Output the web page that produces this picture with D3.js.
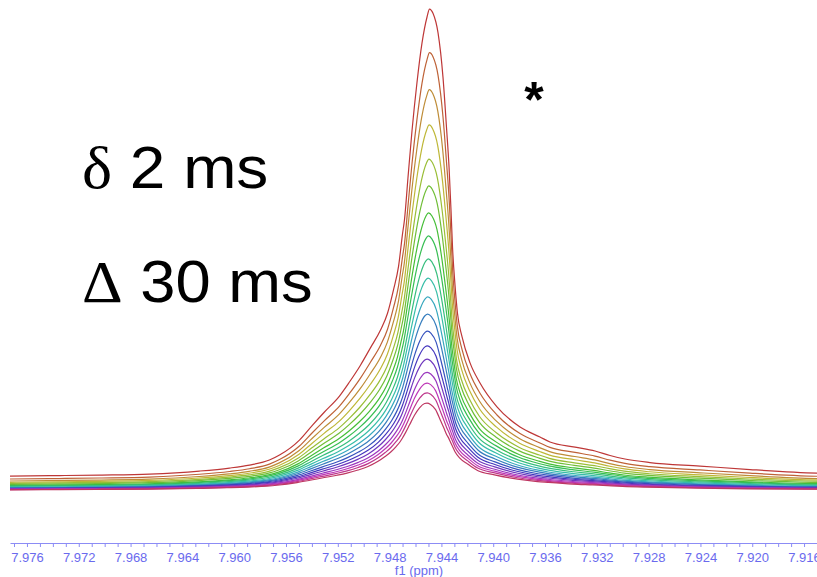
<!DOCTYPE html>
<html>
<head>
<meta charset="utf-8">
<script src="https://cdn.jsdelivr.net/npm/d3@7"></script>
<style>
  html, body { margin: 0; padding: 0; background: #fff; }
  svg { display: block; }
</style>
</head>
<body>
<div class="chart"></div>
<script>
// line shape, ppm offset from the peak centre
const shapeOffset = [0.03320, 0.03243, 0.02857, 0.02548, 0.02162, 0.01776, 0.01544, 0.01390, 0.01236, 0.01158,
  0.01004, 0.00903, 0.00811, 0.00695, 0.00618, 0.00533, 0.00456, 0.00378, 0.00324, 0.00278,
  0.00239, 0.00208, 0.00193, 0.00166, 0.00135, 0.00097, 0.00058, 0.00019, 0, -0.00027,
  -0.00066, -0.00104, -0.00131, -0.00151, -0.00166, -0.00178, -0.00197, -0.00216, -0.00251, -0.00313,
  -0.00390, -0.00521, -0.00699, -0.00853, -0.00930, -0.01124, -0.01278, -0.01394, -0.01509, -0.01702,
  -0.02089, -0.02475, -0.02992, -0.03019];
// relative height of the top (red) trace
const shapeTop = [0.002, 0.0021, 0.0032, 0.0043, 0.0064, 0.0128, 0.0192, 0.0256, 0.0363, 0.047,
  0.079, 0.111, 0.139, 0.173, 0.203, 0.239, 0.276, 0.314, 0.350, 0.400,
  0.45, 0.52, 0.55, 0.64, 0.74, 0.842, 0.927, 0.983, 1.0, 0.991,
  0.949, 0.855, 0.748, 0.662, 0.571, 0.49, 0.41, 0.35, 0.30, 0.244,
  0.201, 0.150, 0.107, 0.0855, 0.075, 0.064, 0.0556, 0.046, 0.0385, 0.031,
  0.0235, 0.016, 0.0085, 0.0083];
// relative height of the bottom (crimson) trace
const shapeBottom = [0.002, 0.002, 0.004, 0.006, 0.010, 0.018, 0.026, 0.033, 0.045, 0.055,
  0.085, 0.112, 0.138, 0.17, 0.195, 0.23, 0.27, 0.33, 0.385, 0.44,
  0.50, 0.555, 0.59, 0.66, 0.75, 0.86, 0.945, 0.995, 1.0, 0.985,
  0.925, 0.80, 0.71, 0.64, 0.60, 0.56, 0.50, 0.44, 0.37, 0.30,
  0.225, 0.175, 0.125, 0.097, 0.088, 0.068, 0.058, 0.05, 0.042, 0.033,
  0.021, 0.014, 0.009, 0.009];

// one entry per gradient step (top trace first)
const peakHeight = [97.5, 89.0, 81.7, 74.6, 67.7, 62.3, 56.9, 52.2, 47.5, 43.6,
  39.8, 36.3, 32.8, 29.8, 27.1, 24.4, 22.2, 20.2, 18.1];
const baseOffset = [2.7, 2.1, 1.7, 1.45, 1.25, 1.05, 0.85, 0.75, 0.65, 0.52,
  0.42, 0.35, 0.29, 0.23, 0.17, 0.12, 0.08, 0.04, 0];
const peakCenter = [7.94492, 7.94492, 7.94494, 7.94495, 7.94497, 7.94498, 7.94500, 7.94501, 7.94502, 7.94503,
  7.94505, 7.94506, 7.94507, 7.94508, 7.94509, 7.94509, 7.94510, 7.94510, 7.94511];
// how far each trace's shape has moved from the top shape towards the bottom one
const shapeMix = [0, 0.08, 0.16, 0.24, 0.31, 0.38, 0.45, 0.51, 0.57, 0.63,
  0.68, 0.73, 0.78, 0.82, 0.86, 0.9, 0.94, 0.97, 1];

const labelTicks = [7.976, 7.972, 7.968, 7.964, 7.960, 7.956, 7.952, 7.948, 7.944, 7.940,
  7.936, 7.932, 7.928, 7.924, 7.920, 7.916];
const minorTicks = d3.range(7977, 7914, -1).map(d => d / 1000);

const W = 817, H = 577;
const axisY = 543;

const svg = d3.select('.chart').append('svg')
  .attr('width', W)
  .attr('height', H)
  .style('font-family', '"Liberation Sans", Arial, sans-serif');

const x = d3.scaleLinear().domain([7.97731, 7.91500]).range([10, 817]);
const y = d3.scaleLinear().domain([0, 100]).range([490, 10]);

svg.append('defs').append('clipPath').attr('id', 'plot')
  .append('rect').attr('x', 10).attr('y', 0).attr('width', W - 10).attr('height', axisY - 5);

const line = d3.line()
  .x(d => x(d[0]))
  .y(d => y(d[1]))
  .curve(d3.curveMonotoneX);

const color = i => d3.hsl(i * 360 / peakHeight.length, 0.55, 0.48).toString();

const traces = svg.append('g').attr('clip-path', 'url(#plot)');
peakHeight.forEach((h, i) => {
  const m = shapeMix[i];
  const pts = shapeOffset.map((o, k) => [
    peakCenter[i] + o,
    baseOffset[i] + h * ((1 - m) * shapeTop[k] + m * shapeBottom[k])
  ]);
  traces.append('path')
    .attr('fill', 'none')
    .attr('stroke', color(i))
    .attr('stroke-width', 1.2)
    .attr('d', line(pts));
});

// x axis (ppm, reversed)
const minorAxis = d3.axisBottom(x).tickValues(minorTicks).tickSize(4).tickSizeOuter(0).tickFormat('');
const labelAxis = d3.axisBottom(x).tickValues(labelTicks).tickSize(0).tickPadding(10).tickFormat(d3.format('.3f'));

const ga = svg.append('g').attr('transform', `translate(0,${axisY})`).call(minorAxis);
ga.select('.domain').attr('stroke', '#8c8cf5');
ga.selectAll('.tick line').attr('stroke', '#8c8cf5');

const gl = svg.append('g').attr('transform', `translate(0,${axisY})`).call(labelAxis);
gl.select('.domain').remove();
gl.selectAll('text')
  .attr('fill', '#6a6aee')
  .style('font-size', '13px')
  .style('font-family', '"Liberation Sans", Arial, sans-serif');

svg.append('text')
  .attr('x', 419).attr('y', 575)
  .attr('text-anchor', 'middle')
  .attr('fill', '#6a6aee')
  .style('font-size', '13px')
  .text('f1 (ppm)');

// annotations (the original lettering runs a little wider than Arial)
const t1 = svg.append('text').attr('transform', 'translate(82,188) scale(1.065,1)')
  .style('font-size', '60px').attr('fill', '#000');
t1.append('tspan').style('font-family', '"Liberation Serif", "Times New Roman", serif').text('δ');
t1.append('tspan').text(' 2 ms');

const t2 = svg.append('text').attr('transform', 'translate(82,302) scale(1.055,1)')
  .style('font-size', '60px').attr('fill', '#000');
t2.append('tspan').style('font-family', '"Liberation Serif", "Times New Roman", serif').text('Δ');
t2.append('tspan').text(' 30 ms');

svg.append('text')
  .attr('x', 534).attr('y', 117)
  .attr('text-anchor', 'middle')
  .style('font-size', '50px')
  .style('font-weight', 'bold')
  .text('*');
</script>
</body>
</html>
